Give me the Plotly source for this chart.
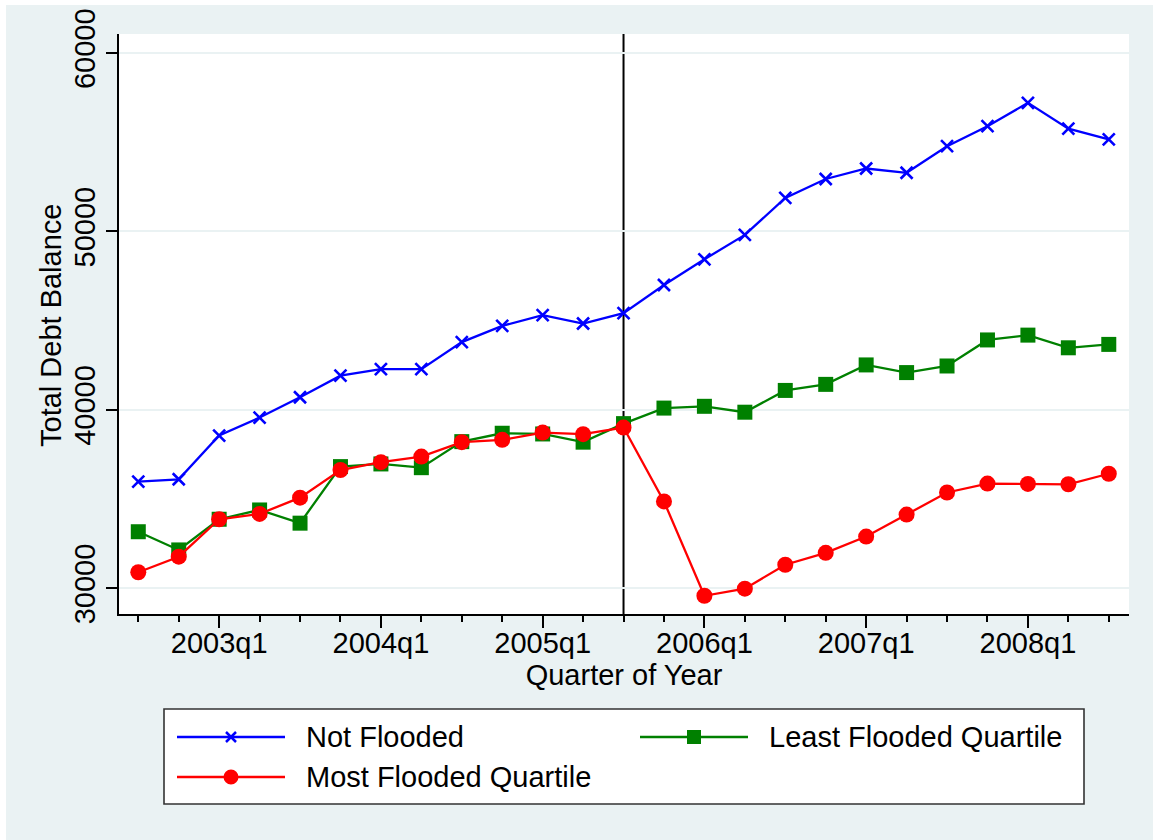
import plotly.graph_objects as go

# Quarterly series, 2002q3 through 2008q3
quarters = ["2002q3", "2002q4",
            "2003q1", "2003q2", "2003q3", "2003q4",
            "2004q1", "2004q2", "2004q3", "2004q4",
            "2005q1", "2005q2", "2005q3", "2005q4",
            "2006q1", "2006q2", "2006q3", "2006q4",
            "2007q1", "2007q2", "2007q3", "2007q4",
            "2008q1", "2008q2", "2008q3"]

not_flooded = [35980, 36110, 38560, 39570, 40710, 41920, 42280, 42280, 43800,
               44710, 45310, 44840, 45420, 47000, 48440, 49810, 51880, 52940,
               53530, 53290, 54780, 55900, 57210, 55760, 55160]

least_flooded = [33170, 32150, 33870, 34390, 33650, 36820, 36970, 36760, 38220,
                 38690, 38650, 38190, 39230, 40100, 40200, 39870, 41090, 41430,
                 42520, 42090, 42460, 43920, 44190, 43480, 43670]

most_flooded = [30900, 31770, 33870, 34170, 35080, 36630, 37070, 37380, 38190,
                38320, 38730, 38640, 39010, 34870, 29580, 29980, 31320, 31990,
                32900, 34130, 35370, 35870, 35850, 35830, 36420]

tick_labels = ["2003q1", "2004q1", "2005q1", "2006q1", "2007q1", "2008q1"]
y_ticks = [30000, 40000, 50000, 60000]
event_quarter = "2005q3"

W, H = 1153, 840
# plot-area edges in pixels
L, R, T, B = 119, 1129, 34, 614
BG = "#EAF2F3"
FONT = "Liberation Sans, Arial, Helvetica, sans-serif"
FS = 29

xi = list(range(len(quarters)))
tick_pos = [quarters.index(q) for q in tick_labels]
event_x = quarters.index(event_quarter)

BLUE, GREEN, RED = "#0000FF", "#008000", "#FF0000"

fig = go.Figure()
fig.add_trace(go.Scatter(
    x=xi, y=not_flooded, mode="lines+markers", name="Not Flooded",
    line=dict(color=BLUE, width=2.3),
    marker=dict(symbol="x-thin", size=12, line=dict(color=BLUE, width=2.6))))
fig.add_trace(go.Scatter(
    x=xi, y=least_flooded, mode="lines+markers", name="Least Flooded Quartile",
    line=dict(color=GREEN, width=2.3),
    marker=dict(symbol="square", size=15, color=GREEN)))
fig.add_trace(go.Scatter(
    x=xi, y=most_flooded, mode="lines+markers", name="Most Flooded Quartile",
    line=dict(color=RED, width=2.3),
    marker=dict(symbol="circle", size=16, color=RED)))


def px(x):
    """pixel column -> paper x (relative to the plot area)"""
    return (x - L) / (R - L)


def py(y):
    """pixel row -> paper y (relative to the plot area)"""
    return (B - y) / (B - T)


shapes = [
    # event marker line
    dict(type="line", xref="x", yref="paper", x0=event_x, x1=event_x, y0=0, y1=1,
         line=dict(color="black", width=2), layer="below"),
    # thin white border at top and left of the canvas
    dict(type="rect", xref="paper", yref="paper", x0=px(0), x1=px(W), y0=py(5), y1=py(0),
         fillcolor="white", line=dict(width=0)),
    dict(type="rect", xref="paper", yref="paper", x0=px(0), x1=px(6), y0=py(H), y1=py(0),
         fillcolor="white", line=dict(width=0)),
    # legend box
    dict(type="rect", xref="paper", yref="paper", x0=px(164), x1=px(1084),
         y0=py(804), y1=py(709), fillcolor="white", line=dict(color="#333333", width=1.6)),
]

annotations = [
    # y-axis title
    dict(xref="paper", yref="paper", x=px(51), y=py(326), xanchor="center", yanchor="middle",
         textangle=-90, showarrow=False, text="Total Debt Balance",
         font=dict(family=FONT, size=FS, color="black")),
]

# legend entries: (label, colour, marker kind, line start px, text start px, row y px)
legend_items = [
    ("Not Flooded", BLUE, "x", 177, 304, 737),
    ("Least Flooded Quartile", GREEN, "square", 640, 767, 737),
    ("Most Flooded Quartile", RED, "circle", 177, 304, 777),
]
for label, col, kind, x0, tx, ry in legend_items:
    shapes.append(dict(type="line", xref="paper", yref="paper",
                       x0=px(x0), x1=px(x0 + 108), y0=py(ry), y1=py(ry),
                       line=dict(color=col, width=2.3)))
    cx = x0 + 54
    if kind == "x":
        r = 5
        for a, b in ((-r, r), (r, -r)):
            shapes.append(dict(type="line", xref="paper", yref="paper",
                               x0=px(cx - r), x1=px(cx + r), y0=py(ry + a), y1=py(ry + b),
                               line=dict(color=col, width=2.5)))
    elif kind == "square":
        r = 7
        shapes.append(dict(type="rect", xref="paper", yref="paper",
                           x0=px(cx - r), x1=px(cx + r), y0=py(ry + r), y1=py(ry - r),
                           fillcolor=col, line=dict(width=0)))
    else:
        r = 7.5
        shapes.append(dict(type="circle", xref="paper", yref="paper",
                           x0=px(cx - r), x1=px(cx + r), y0=py(ry + r), y1=py(ry - r),
                           fillcolor=col, line=dict(width=0)))
    annotations.append(dict(xref="paper", yref="paper", x=px(tx), y=py(ry),
                            xanchor="left", yanchor="middle", showarrow=False,
                            text=label, font=dict(family=FONT, size=FS, color="black")))

fig.update_layout(
    width=W, height=H,
    margin=dict(l=L, r=W - R, t=T, b=H - B, autoexpand=False),
    paper_bgcolor=BG, plot_bgcolor="white",
    font=dict(family=FONT, size=FS, color="black"),
    showlegend=False,
    shapes=shapes,
    annotations=annotations,
    xaxis=dict(
        range=[-0.477, 24.5], automargin=False,
        tickmode="array", tickvals=tick_pos, ticktext=tick_labels,
        ticks="outside", ticklen=12, tickwidth=1.5, tickcolor="black",
        minor=dict(tickmode="linear", tick0=0, dtick=1, ticks="outside",
                   ticklen=6, tickwidth=1.5, tickcolor="black", showgrid=False),
        showgrid=False, zeroline=False,
        showline=True, linecolor="black", linewidth=1.5,
        tickfont=dict(size=FS), ticklabelstandoff=-10,
        title=dict(text="Quarter of Year", font=dict(size=FS), standoff=0),
    ),
    yaxis=dict(
        range=[28559, 61068], automargin=False,
        tickmode="array", tickvals=y_ticks, ticktext=[str(v) for v in y_ticks],
        tickangle=-90,
        ticks="outside", ticklen=11, tickwidth=1.5, tickcolor="black",
        showgrid=True, gridcolor=BG, gridwidth=2,
        zeroline=False,
        showline=True, linecolor="black", linewidth=1.5,
        tickfont=dict(size=FS), ticklabelstandoff=0,
    ),
)

fig.write_html("out.html")
